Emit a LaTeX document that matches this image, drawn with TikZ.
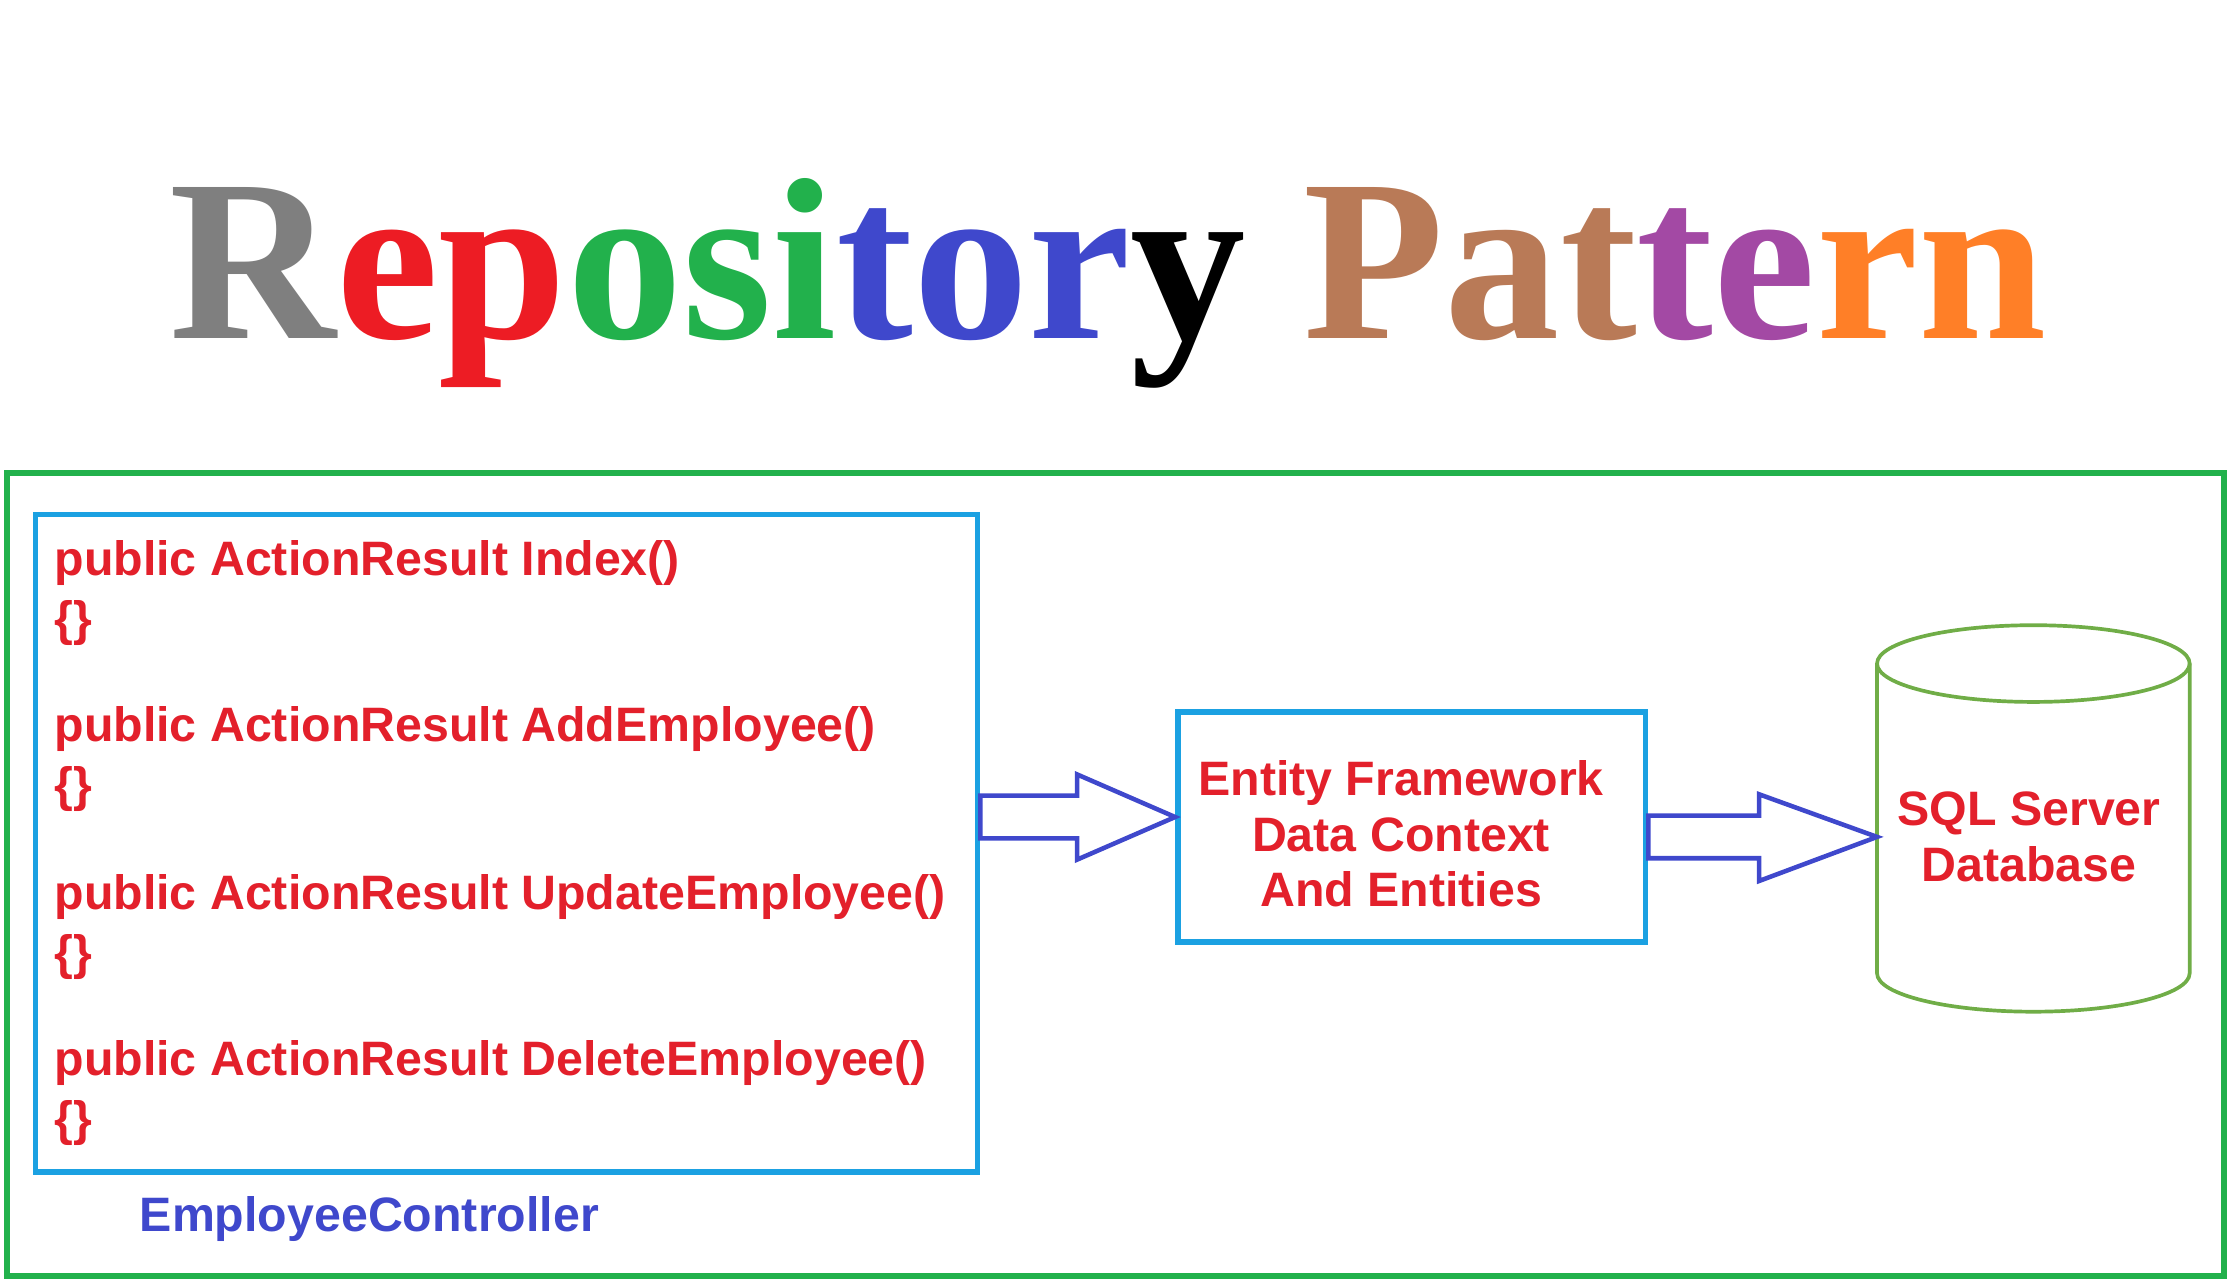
\documentclass[tikz,border=0pt]{standalone}
\usepackage{fontspec}
\setmainfont{Liberation Sans}
\newfontfamily\titlefont{Liberation Serif}
\definecolor{tred}{HTML}{ED1C24}
\definecolor{tgreen}{HTML}{22B14C}
\definecolor{tblue}{HTML}{3F48CC}
\definecolor{tgray}{HTML}{7F7F7F}
\definecolor{tbrown}{HTML}{B97A57}
\definecolor{tpurple}{HTML}{A349A4}
\definecolor{torange}{HTML}{FF7F27}
\definecolor{boxblue}{HTML}{1BA1E2}
\definecolor{cylgreen}{HTML}{70AD47}
\definecolor{codered}{HTML}{E3202B}
\tikzset{
 code/.style={anchor=base west,font=\fontsize{17}{18}\selectfont\bfseries,text=codered,inner sep=0},
 bluebox/.style={draw=boxblue,line width=2pt},
 blockarrow/.style={draw=tblue,line width=1.6pt,line join=miter},
 cyl/.style={draw=cylgreen,line width=1.3pt},
}
\begin{document}
\begin{tikzpicture}[x=0.5pt,y=-0.5pt]
\useasboundingbox (0,0) rectangle (1568,903);
% title
\node[anchor=base,inner sep=0] (title) at (780,238) {\resizebox{660pt}{!}{\titlefont\bfseries
\textcolor{tgray}{R}\textcolor{tred}{ep}\textcolor{tgreen}{osi}\textcolor{tblue}{tor}y
\textcolor{tbrown}{Pat}\textcolor{tpurple}{te}\textcolor{torange}{rn}}};
% outer frame
\draw[tgreen,line width=2pt] (5,333) rectangle (1565,898);
% controller box
\node[bluebox,minimum width=331.5pt,minimum height=231.5pt,inner sep=0] (ctrl) at (356.5,593.5) {};
\node[code] (l1) at (38,405) {public ActionResult Index()};
\node[code] (b1) at (38,447) {\{\}};
\node[code] (l2) at (38,522) {public ActionResult AddEmployee()};
\node[code] (b2) at (38,564) {\{\}};
\node[code] (l3) at (38,640) {public ActionResult UpdateEmployee()};
\node[code] (b3) at (38,682) {\{\}};
\node[code] (l4) at (38,757) {public ActionResult DeleteEmployee()};
\node[code] (b4) at (38,799) {\{\}};
\node[code,text=tblue] (cname) at (98,867) {EmployeeController};
% EF box
\node[bluebox,minimum width=164.5pt,minimum height=81pt,inner sep=0] (ef) at (993.5,582) {};
\node[font=\fontsize{17}{19.5}\selectfont\bfseries,text=codered,align=center] (eftext) at (986,587) {Entity Framework\\Data Context\\And Entities};
% cylinder
\coordinate (dbw) at (1321,589);
\draw[cyl] (1431,467) ellipse [x radius=110, y radius=27];
\draw[cyl] (1321,467) -- (1321,685) arc[start angle=180,end angle=0,x radius=110,y radius=27] -- (1541,467);
\node[font=\fontsize{17}{19.5}\selectfont\bfseries,text=codered,align=center] (dbtext) at (1428,589) {SQL Server\\Database};
% arrows
\draw[blockarrow] (ctrl.east |- 0,560) -- (758,560) -- (758,545) -- (ef.west |- 0,575) -- (758,605) -- (758,590) -- (ctrl.east |- 0,590) -- cycle;
\draw[blockarrow] (ef.east |- 0,574) -- (1238,574) -- (1238,559) -- (dbw) -- (1238,620) -- (1238,604) -- (ef.east |- 0,604) -- cycle;
\end{tikzpicture}
\end{document}
